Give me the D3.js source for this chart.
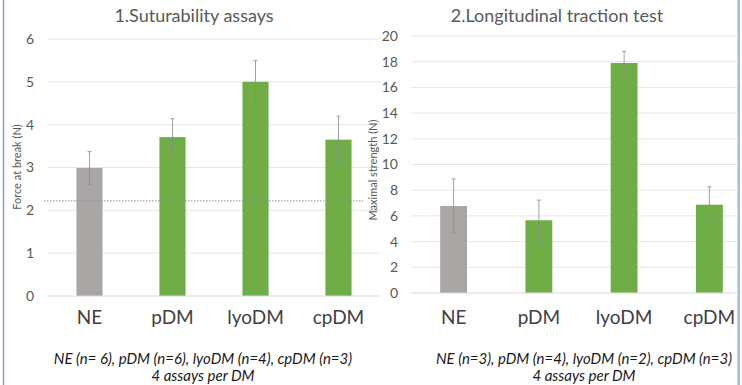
<!DOCTYPE html>
<html>
<head>
<meta charset="utf-8">
<script src="https://cdn.jsdelivr.net/npm/d3@7"></script>
<style>
  body { margin: 0; background: #fff; }
  svg { display: block; font-family: Lato, "Open Sans", sans-serif; }
  .grid line { stroke: #e6e6e6; stroke-width: 1; }
  .tick-label { fill: #595959; font-size: 14px; }
  .cat-label { fill: #404040; font-size: 19px; }
  .title { fill: #595959; font-size: 18px; }
  .axis-title { fill: #595959; font-size: 11px; }
  .note { fill: #1a1a1a; font-size: 15px; font-style: italic; }
</style>
</head>
<body>
<svg id="chart" width="742" height="385"></svg>
<script>
// categories shared by both panels
var categories = ['NE', 'pDM', 'lyoDM', 'cpDM'];

// 1. suturability (force at break, N)
var sutureValues = [2.99, 3.71, 5.0, 3.65];
var sutureErrors = [0.38, 0.43, 0.5, 0.55];
var sutureTicks = [0, 1, 2, 3, 4, 5, 6];
var sutureThreshold = 2.22;

// 2. longitudinal traction (maximal strength, N)
var tractionValues = [6.77, 5.66, 17.9, 6.87];
var tractionErrors = [2.1, 1.57, 0.9, 1.4];
var tractionTicks = [0, 2, 4, 6, 8, 10, 12, 14, 16, 18, 20];

var barColors = ['#aba6a6', '#70ad47', '#70ad47', '#70ad47'];

var svg = d3.select('#chart');

function drawPanel(cfg) {
    var g = svg.append('g');

    var x = d3.scaleBand()
        .domain(categories)
        .range([cfg.left, cfg.right]);

    var y = d3.scaleLinear()
        .domain([0, cfg.ticks[cfg.ticks.length - 1]])
        .range([cfg.bottom, cfg.top]);

    var barW = x.bandwidth() * 0.315;

    // gridlines
    g.append('g').classed('grid', true)
        .selectAll('line')
        .data(cfg.ticks.slice(1))
        .join('line')
        .attr('x1', cfg.left)
        .attr('x2', cfg.gridEnd)
        .attr('y1', function(d) { return y(d); })
        .attr('y2', function(d) { return y(d); });

    // tick labels
    g.selectAll('.tick-label')
        .data(cfg.ticks)
        .join('text')
        .classed('tick-label', true)
        .attr('x', cfg.tickX)
        .attr('y', function(d) { return y(d); })
        .attr('dy', '0.35em')
        .attr('text-anchor', 'end')
        .text(function(d) { return d; });

    // bars
    g.selectAll('.bar')
        .data(cfg.values)
        .join('rect')
        .classed('bar', true)
        .attr('x', function(d, i) { return x(categories[i]) + x.bandwidth() / 2 - barW / 2; })
        .attr('width', barW)
        .attr('y', function(d) { return y(d); })
        .attr('height', function(d) { return y(0) - y(d); })
        .attr('fill', function(d, i) { return barColors[i]; });

    // baseline
    g.append('line')
        .attr('x1', cfg.left)
        .attr('x2', cfg.gridEnd)
        .attr('y1', y(0))
        .attr('y2', y(0))
        .attr('stroke', '#d9d9d9')
        .attr('stroke-width', 1);

    // threshold line (dotted)
    if (cfg.threshold != null) {
        g.append('line')
            .attr('x1', cfg.thresholdX[0])
            .attr('x2', cfg.thresholdX[1])
            .attr('y1', y(cfg.threshold))
            .attr('y2', y(cfg.threshold))
            .attr('stroke', '#8c8c8c')
            .attr('stroke-width', 1)
            .attr('stroke-dasharray', '1.5,1.5');
    }

    // error bars
    var eb = g.selectAll('.err')
        .data(cfg.values)
        .join('g')
        .classed('err', true)
        .attr('transform', function(d, i) {
            return 'translate(' + (x(categories[i]) + x.bandwidth() / 2) + ',0)';
        });

    eb.append('line')
        .attr('y1', function(d, i) { return y(d + cfg.errors[i]); })
        .attr('y2', function(d, i) { return y(d - cfg.errors[i]); })
        .attr('stroke', '#8a8a8a')
        .attr('stroke-width', 0.8);

    eb.selectAll('.cap')
        .data(function(d, i) { return [d + cfg.errors[i], d - cfg.errors[i]]; })
        .join('line')
        .classed('cap', true)
        .attr('x1', -2)
        .attr('x2', 2)
        .attr('y1', function(v) { return y(v); })
        .attr('y2', function(v) { return y(v); })
        .attr('stroke', '#8a8a8a')
        .attr('stroke-width', 0.8);

    // category labels
    g.selectAll('.cat-label')
        .data(categories)
        .join('text')
        .classed('cat-label', true)
        .attr('x', function(d) { return x(d) + x.bandwidth() / 2; })
        .attr('y', 324)
        .attr('text-anchor', 'middle')
        .text(function(d) { return d; });

    // title
    g.append('text')
        .classed('title', true)
        .attr('x', cfg.titleX)
        .attr('y', 22)
        .attr('text-anchor', 'middle')
        .text(cfg.title);

    // y axis title
    g.append('text')
        .classed('axis-title', true)
        .attr('transform', 'translate(' + cfg.axisTitleX + ',' + cfg.axisTitleY + ') rotate(-90)')
        .attr('text-anchor', 'middle')
        .text(cfg.axisTitle);

    // footnote
    g.selectAll('.note')
        .data(cfg.notes)
        .join('text')
        .classed('note', true)
        .attr('x', cfg.noteX)
        .attr('y', function(d, i) { return 364 + i * 17; })
        .attr('text-anchor', 'middle')
        .text(function(d) { return d; });
}

drawPanel({
    left: 48, right: 380, gridEnd: 380, top: 39, bottom: 296,
    ticks: sutureTicks, values: sutureValues, errors: sutureErrors,
    threshold: sutureThreshold, thresholdX: [44, 363],
    tickX: 34,
    title: '1.Suturability assays', titleX: 194,
    axisTitle: 'Force at break (N)', axisTitleX: 21, axisTitleY: 167,
    notes: ['NE (n= 6), pDM (n=6), lyoDM (n=4), cpDM (n=3)', '4 assays per DM'],
    noteX: 203
});

drawPanel({
    left: 411, right: 752, gridEnd: 737, top: 36, bottom: 293,
    ticks: tractionTicks, values: tractionValues, errors: tractionErrors,
    threshold: null,
    tickX: 398,
    title: '2.Longitudinal traction test', titleX: 557,
    axisTitle: 'Maximal strength (N)', axisTitleX: 377, axisTitleY: 170,
    notes: ['NE (n=3), pDM (n=4), lyoDM (n=2), cpDM (n=3)', '4 assays per DM'],
    noteX: 584
});

// frame edges visible in the slide
svg.append('line')
    .attr('x1', 3.5).attr('x2', 3.5).attr('y1', 0).attr('y2', 385)
    .attr('stroke', '#8797d6').attr('stroke-width', 1.5);
svg.append('rect')
    .attr('x', 737.5).attr('y', 0).attr('width', 2.5).attr('height', 385)
    .attr('fill', '#a9b8ea');
</script>
</body>
</html>
